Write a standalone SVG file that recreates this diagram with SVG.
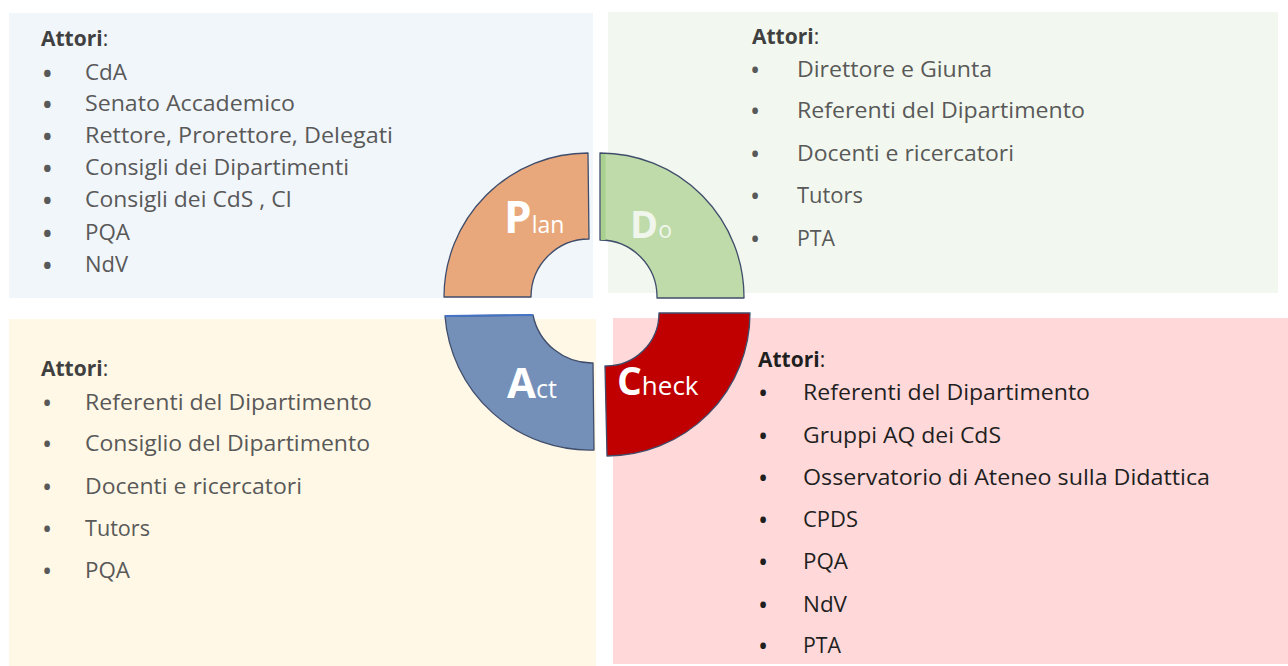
<svg xmlns="http://www.w3.org/2000/svg" width="1288" height="666" viewBox="0 0 1288 666">
<style>
  .t { font-family: "Open Sans", "Noto Sans", sans-serif; font-size: 21px; fill: #595959; }
  .t .bu { font-size: 27px; }
  .t .bs { font-size: 23px; font-weight: 700; }
  .h { font-family: "Open Sans", "Noto Sans", sans-serif; font-size: 21px; fill: #404040; }
  .h .b { font-weight: 700; }
  .dk { fill: #1F1F1F; }
  .seg { stroke: #3F4D6B; stroke-width: 1.3; stroke-linejoin: round; }
  .lbl { font-family: "Open Sans", "Noto Sans", sans-serif; fill: #FFFFFF; }
</style>
<rect width="1288" height="666" fill="#FFFFFF"/>

<g id="quadrant-plan">
  <rect x="9" y="13" width="584" height="285" fill="#F1F6FB"/>
  <text class="h" x="41" y="46"><tspan class="b">Attori</tspan>:</text>
  <g class="t">
    <text class="bs" x="43" y="82">•</text><text x="85" y="80" textLength="42" lengthAdjust="spacingAndGlyphs">CdA</text>
    <text class="bs" x="43" y="113">•</text><text x="85" y="111" textLength="210" lengthAdjust="spacingAndGlyphs">Senato Accademico</text>
    <text class="bs" x="43" y="145">•</text><text x="85" y="143" textLength="308" lengthAdjust="spacingAndGlyphs">Rettore, Prorettore, Delegati</text>
    <text class="bs" x="43" y="177">•</text><text x="85" y="175" textLength="264" lengthAdjust="spacingAndGlyphs">Consigli dei Dipartimenti</text>
    <text class="bs" x="43" y="209">•</text><text x="85" y="207" textLength="207" lengthAdjust="spacingAndGlyphs">Consigli dei CdS , CI</text>
    <text class="bs" x="43" y="242">•</text><text x="85" y="240" textLength="45" lengthAdjust="spacingAndGlyphs">PQA</text>
    <text class="bs" x="43" y="274">•</text><text x="85" y="272" textLength="43" lengthAdjust="spacingAndGlyphs">NdV</text>
  </g>
</g>

<g id="quadrant-do">
  <rect x="608" y="12" width="670" height="281" fill="#F2F8EF"/>
  <text class="h" x="752" y="44"><tspan class="b">Attori</tspan>:</text>
  <g class="t">
    <text class="bu" x="750" y="80">•</text><text x="797" y="77" textLength="195" lengthAdjust="spacingAndGlyphs">Direttore e Giunta</text>
    <text class="bu" x="750" y="121">•</text><text x="797" y="118" textLength="288" lengthAdjust="spacingAndGlyphs">Referenti del Dipartimento</text>
    <text class="bu" x="750" y="164">•</text><text x="797" y="161" textLength="217" lengthAdjust="spacingAndGlyphs">Docenti e ricercatori</text>
    <text class="bu" x="750" y="206">•</text><text x="797" y="203" textLength="66" lengthAdjust="spacingAndGlyphs">Tutors</text>
    <text class="bu" x="750" y="249">•</text><text x="797" y="246" textLength="38" lengthAdjust="spacingAndGlyphs">PTA</text>
  </g>
</g>

<g id="quadrant-act">
  <rect x="9" y="319" width="587" height="347" fill="#FFF8E6"/>
  <text class="h" x="41" y="376"><tspan class="b">Attori</tspan>:</text>
  <g class="t">
    <text class="bu" x="42" y="413">•</text><text x="85" y="410" textLength="287" lengthAdjust="spacingAndGlyphs">Referenti del Dipartimento</text>
    <text class="bu" x="42" y="454">•</text><text x="85" y="451" textLength="285" lengthAdjust="spacingAndGlyphs">Consiglio del Dipartimento</text>
    <text class="bu" x="42" y="497">•</text><text x="85" y="494" textLength="217" lengthAdjust="spacingAndGlyphs">Docenti e ricercatori</text>
    <text class="bu" x="42" y="539">•</text><text x="85" y="536" textLength="65" lengthAdjust="spacingAndGlyphs">Tutors</text>
    <text class="bu" x="42" y="581">•</text><text x="85" y="578" textLength="45" lengthAdjust="spacingAndGlyphs">PQA</text>
  </g>
</g>

<g id="quadrant-check">
  <rect x="613" y="318" width="675" height="346" fill="#FFD9DA"/>
  <text class="h dk" x="758" y="367"><tspan class="b">Attori</tspan>:</text>
  <g class="t dk">
    <text class="bu" x="758" y="403">•</text><text x="803" y="400" textLength="287" lengthAdjust="spacingAndGlyphs">Referenti del Dipartimento</text>
    <text class="bu" x="758" y="446">•</text><text x="803" y="443" textLength="198" lengthAdjust="spacingAndGlyphs">Gruppi AQ dei CdS</text>
    <text class="bu" x="758" y="488">•</text><text x="803" y="485" textLength="407" lengthAdjust="spacingAndGlyphs">Osservatorio di Ateneo sulla Didattica</text>
    <text class="bu" x="758" y="530">•</text><text x="803" y="527" textLength="55" lengthAdjust="spacingAndGlyphs">CPDS</text>
    <text class="bu" x="758" y="572">•</text><text x="803" y="569" textLength="45" lengthAdjust="spacingAndGlyphs">PQA</text>
    <text class="bu" x="758" y="615">•</text><text x="803" y="612" textLength="44" lengthAdjust="spacingAndGlyphs">NdV</text>
    <text class="bu" x="758" y="656">•</text><text x="803" y="653" textLength="38" lengthAdjust="spacingAndGlyphs">PTA</text>
  </g>
</g>

<g id="segment-plan">
  <path class="seg" fill="#E8A87C" d="M 444,297 A 144 144 0 0 1 588,153 L 589,239 A 58 58 0 0 0 531,297 Z"/>
  <text class="lbl" x="504" y="233"><tspan font-size="44" font-weight="700">P</tspan><tspan font-size="23">lan</tspan></text>
</g>

<g id="segment-do">
  <path class="seg" fill="#BEDBA9" d="M 600,153 A 144 144 0 0 1 744,298 L 657,298 A 57 57 0 0 0 600,240 Z"/>
  <rect x="601" y="154" width="4.5" height="86" fill="#A9D08E"/>
  <text class="lbl" x="630" y="238" style="fill:#F0F6EC"><tspan font-size="38" font-weight="700">D</tspan><tspan font-size="23">o</tspan></text>
</g>

<g id="segment-act">
  <path class="seg" fill="#7490B9" d="M 445,316 L 533,315 A 60 60 0 0 0 593,363 L 594,450 A 145 145 0 0 1 445,316 Z"/>
  <line x1="445" y1="316" x2="533" y2="315" stroke="#4472C4" stroke-width="2"/>
  <text class="lbl" x="507" y="398"><tspan font-size="42" font-weight="700">A</tspan><tspan font-size="25">ct</tspan></text>
</g>

<g id="segment-check">
  <path class="seg" fill="#C00000" d="M 750,313 A 143 143 0 0 1 607,456 L 605,366 A 53 53 0 0 0 659,313 Z"/>
  <text class="lbl" x="617" y="395"><tspan font-size="39" font-weight="700">C</tspan><tspan font-size="26">heck</tspan></text>
</g>

<g id="connectors"></g>
</svg>
